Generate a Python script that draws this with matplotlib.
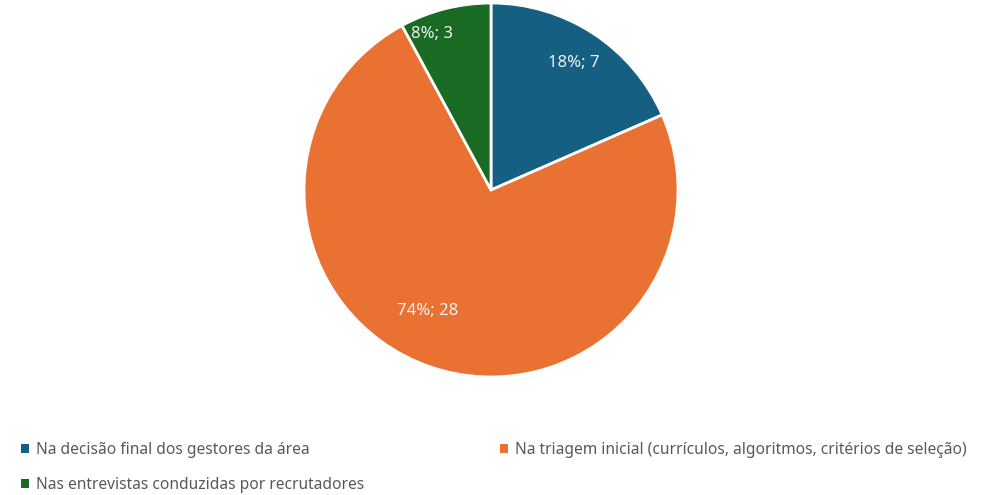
import numpy as np
import matplotlib.pyplot as plt
from matplotlib.patches import Patch

plt.rcParams["font.family"] = ["Noto Sans", "DejaVu Sans"]

categories = [
    "Na decisão final dos gestores da área",
    "Na triagem inicial (currículos, algoritmos, critérios de seleção)",
    "Nas entrevistas conduzidas por recrutadores",
]
counts = [7, 28, 3]
colors = ["#156082", "#E97132", "#196B24"]

# label placement tweaks: (angle shift in degrees, distance from center)
label_place = [(0, 0.81), (-8.6, 0.73), (6.5, 0.89)]

W, H = 986, 495
fig = plt.figure(figsize=(W / 100, H / 100), dpi=100)

cx, cy, r = 491, 190, 187
ax = fig.add_axes([(cx - r) / W, (H - cy - r) / H, 2 * r / W, 2 * r / H])
wedges, _ = ax.pie(
    counts,
    colors=colors,
    startangle=90,
    counterclock=False,
    radius=1,
    wedgeprops=dict(edgecolor="white", linewidth=2),
)
ax.set_xlim(-1, 1)
ax.set_ylim(-1, 1)
ax.set_aspect("equal")
ax.axis("off")

total = sum(counts)
for w, n, (shift, dist) in zip(wedges, counts, label_place):
    mid = np.deg2rad((w.theta1 + w.theta2) / 2 + shift)
    ax.text(
        dist * np.cos(mid),
        dist * np.sin(mid),
        f"{round(100 * n / total)}%; {n}",
        ha="center",
        va="center",
        color="#F2F2F2",
        fontsize=12,
    )

# legend laid out row by row: first column gets entries 0 and 2
order = [0, 2, 1]
handles = [Patch(facecolor=colors[i], edgecolor="none") for i in order]
labels = [categories[i] for i in order]
fig.legend(
    handles,
    labels,
    ncol=2,
    loc="lower left",
    bbox_to_anchor=(21 / W, 2 / H),
    borderpad=0,
    borderaxespad=0,
    frameon=False,
    fontsize=11.2,
    labelcolor="#595959",
    handlelength=0.5,
    handleheight=0.5,
    handletextpad=0.45,
    columnspacing=8.75,
    labelspacing=1.2,
)

fig.savefig("out.png", dpi=100)
